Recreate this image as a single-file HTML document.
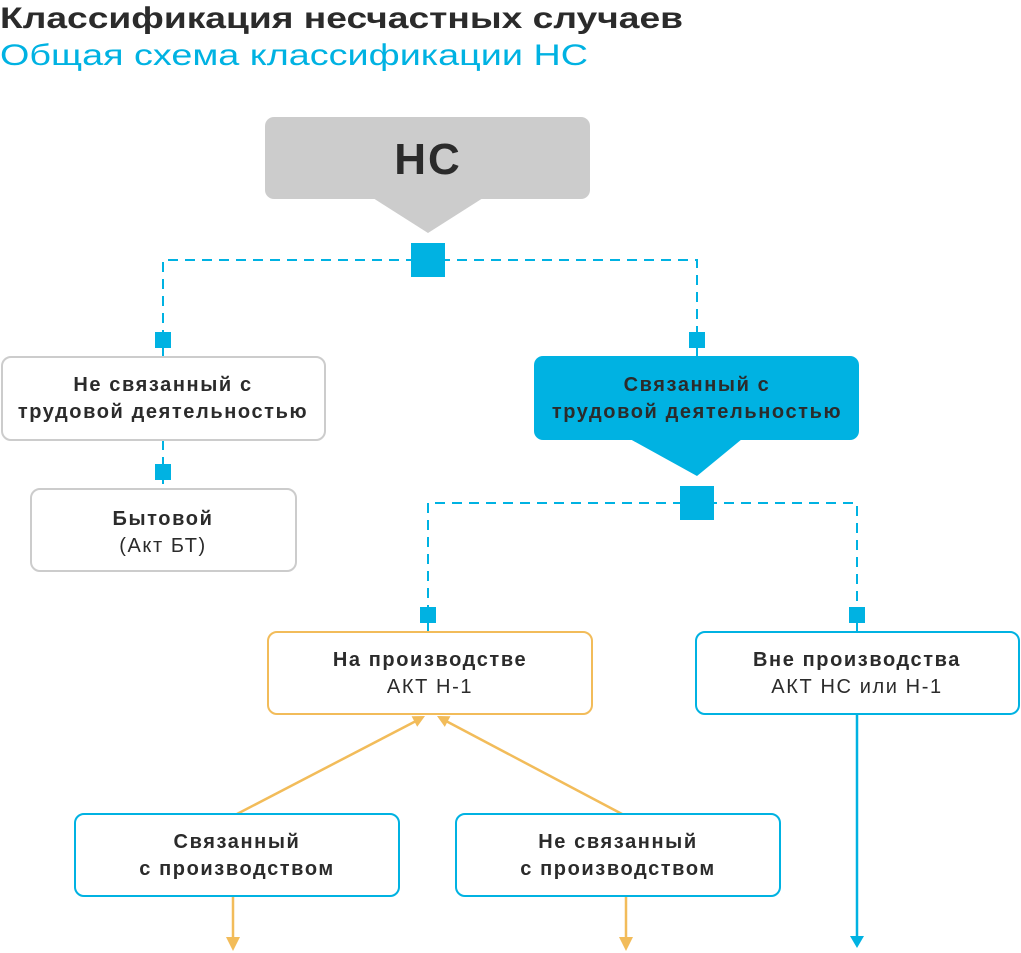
<!DOCTYPE html>
<html><head><meta charset="utf-8"><style>
html,body{margin:0;padding:0;background:#fff;}
svg{display:block;font-family:"Liberation Sans","DejaVu Sans",sans-serif;}
.bt{font-size:20px;letter-spacing:1.6px;}
</style></head><body>
<svg width="1021" height="953" viewBox="0 0 1021 953">
<text x="0" y="28" font-size="30" font-weight="bold" fill="#2b2b2b" textLength="683" lengthAdjust="spacingAndGlyphs">Классификация несчастных случаев</text>
<text x="0" y="65" font-size="30" fill="#00b2e2" textLength="588" lengthAdjust="spacingAndGlyphs">Общая схема классификации НС</text>

<rect x="265" y="117" width="325" height="82" rx="9" fill="#cccccc"/>
<path d="M373,198 L483,198 L428,233 Z" fill="#cccccc"/>
<text x="428" y="174" font-size="44" font-weight="bold" fill="#2b2b2b" text-anchor="middle" letter-spacing="2">НС</text>

<g stroke="#00b2e2" stroke-width="2" fill="none" stroke-dasharray="10,7">
<path d="M163,340 V260 H697 V340"/>
<path d="M163,440 V489"/>
<path d="M428,615 V503 H857 V615"/>
</g>
<g fill="#00b2e2">
<rect x="411" y="243" width="34" height="34"/>
<rect x="155" y="332" width="16" height="16"/>
<rect x="689" y="332" width="16" height="16"/>
<rect x="155" y="464" width="16" height="16"/>
<rect x="680" y="486" width="34" height="34"/>
<rect x="420" y="607" width="16" height="16"/>
<rect x="849" y="607" width="16" height="16"/>
</g>
<g stroke="#00b2e2" stroke-width="2">
<line x1="428" y1="623" x2="428" y2="632"/><line x1="857" y1="623" x2="857" y2="632"/>
<line x1="163" y1="348" x2="163" y2="356"/><line x1="697" y1="348" x2="697" y2="356"/>
</g>

<rect x="2" y="357" width="323" height="83" rx="9" fill="#fff" stroke="#cccccc" stroke-width="2"/>
<text class="bt" font-weight="bold" fill="#2b2b2b" text-anchor="middle"><tspan x="163" y="391">Не связанный с</tspan><tspan x="163" y="418">трудовой деятельностью</tspan></text>

<rect x="31" y="489" width="265" height="82" rx="9" fill="#fff" stroke="#cccccc" stroke-width="2"/>
<text class="bt" fill="#2b2b2b" text-anchor="middle"><tspan x="163" y="525" font-weight="bold">Бытовой</tspan><tspan x="163" y="552">(Акт БТ)</tspan></text>

<rect x="534" y="356" width="325" height="84" rx="9" fill="#00b2e2"/>
<path d="M630,439 L742,439 L697,476 Z" fill="#00b2e2"/>
<text class="bt" font-weight="bold" fill="#2b2b2b" text-anchor="middle"><tspan x="697" y="391">Связанный с</tspan><tspan x="697" y="418">трудовой деятельностью</tspan></text>

<rect x="268" y="632" width="324" height="82" rx="9" fill="#fff" stroke="#f2bc5a" stroke-width="2"/>
<text class="bt" fill="#2b2b2b" text-anchor="middle"><tspan x="430" y="666" font-weight="bold">На производстве</tspan><tspan x="430" y="693">АКТ Н-1</tspan></text>

<rect x="696" y="632" width="323" height="82" rx="9" fill="#fff" stroke="#00b2e2" stroke-width="2"/>
<text class="bt" fill="#2b2b2b" text-anchor="middle"><tspan x="857" y="666" font-weight="bold">Вне производства</tspan><tspan x="857" y="693">АКТ НС или Н-1</tspan></text>

<g stroke="#f2bc5a" stroke-width="2.5" fill="none">
<line x1="237" y1="814" x2="416" y2="721"/>
<line x1="622" y1="814" x2="446" y2="721"/>
<line x1="233" y1="896" x2="233" y2="940"/>
<line x1="626" y1="896" x2="626" y2="940"/>
</g>
<g fill="#f2bc5a">
<path d="M425,716 L417.2,726.8 L411.6,716.2 Z"/>
<path d="M437,716 L450.4,716.3 L444.8,726.9 Z"/>
<path d="M226,937 L240,937 L233,951 Z"/>
<path d="M619,937 L633,937 L626,951 Z"/>
</g>
<line x1="857" y1="714" x2="857" y2="938" stroke="#00b2e2" stroke-width="2.5"/>
<path d="M850,936 L864,936 L857,948 Z" fill="#00b2e2"/>

<rect x="75" y="814" width="324" height="82" rx="9" fill="#fff" stroke="#00b2e2" stroke-width="2"/>
<text class="bt" font-weight="bold" fill="#2b2b2b" text-anchor="middle"><tspan x="237" y="848">Связанный</tspan><tspan x="237" y="875">с производством</tspan></text>

<rect x="456" y="814" width="324" height="82" rx="9" fill="#fff" stroke="#00b2e2" stroke-width="2"/>
<text class="bt" font-weight="bold" fill="#2b2b2b" text-anchor="middle"><tspan x="618" y="848">Не связанный</tspan><tspan x="618" y="875">с производством</tspan></text>
</svg>
</body></html>
